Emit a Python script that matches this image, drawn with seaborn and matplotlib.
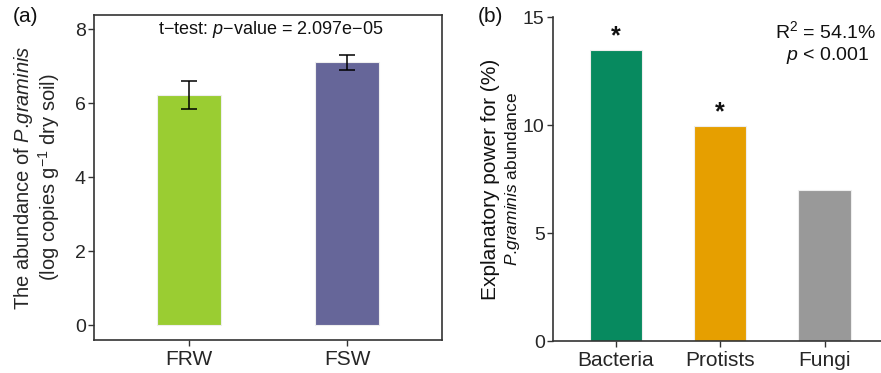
import seaborn as sns
import matplotlib.pyplot as plt
import pandas as pd

# ---- data ----
groups = ['FRW', 'FSW']
abundance = [6.22, 7.10]
abundance_sd = [0.38, 0.21]
group_colors = ['#9ACD32', '#666699']

taxa = ['Bacteria', 'Protists', 'Fungi']
expl_power = [13.45, 9.95, 7.0]
taxa_colors = ['#078A5F', '#E69F00', '#999999']
signif = ['*', '*', '']

sns.set_style('white')
plt.rcParams['font.family'] = ['Liberation Sans', 'DejaVu Sans']
plt.rcParams['mathtext.fontset'] = 'custom'
plt.rcParams['mathtext.rm'] = 'Liberation Sans'
plt.rcParams['mathtext.it'] = 'Liberation Sans:italic'
plt.rcParams['text.color'] = '#111111'

fig = plt.figure(figsize=(8.81, 3.73), dpi=100)
W, H = 881, 373
ax1 = fig.add_axes([94 / W, 1 - 340 / H, (442 - 94) / W, (340 - 15) / H])
ax2 = fig.add_axes([553 / W, 1 - 341 / H, (881 - 553) / W, (341 - 17) / H])

# ---- panel (a) ----
df_a = pd.DataFrame({'group': groups, 'value': abundance})
sns.barplot(data=df_a, x='group', y='value', hue='group', palette=group_colors,
            saturation=1, width=0.4, edgecolor='#eeeeee', linewidth=0.8,
            legend=False, ax=ax1)
ax1.errorbar(range(len(groups)), abundance, yerr=abundance_sd, fmt='none',
             ecolor='black', elinewidth=1.1, capsize=6, capthick=1.1)
ax1.set_xlim(-0.6, 1.6)
ax1.set_ylim(-0.4, 8.38)
ax1.set_yticks([0, 2, 4, 6, 8])
ax1.set_xlabel('')
ax1.set_ylabel('The abundance of $\\it{P}$.$\\it{graminis}$\n(log copies g$^{-1}$ dry soil)',
               fontsize=14.5, labelpad=9, linespacing=1.05)
for s in ax1.spines.values():
    s.set_color('#333333')
    s.set_linewidth(1.2)
ax1.tick_params(axis='both', direction='out', length=4, width=1, color='#333333',
                left=True, bottom=True)
ax1.tick_params(axis='y', labelsize=14, pad=2)
ax1.tick_params(axis='x', labelsize=15, pad=3)
ax1.text(0.52, 8.0, 't$-$test: $\\it{p}$$-$value = 2.097e$-$05', ha='center', va='center',
         fontsize=13)

# ---- panel (b) ----
df_b = pd.DataFrame({'taxon': taxa, 'value': expl_power})
sns.barplot(data=df_b, x='taxon', y='value', hue='taxon', palette=taxa_colors,
            saturation=1, width=0.5, edgecolor='#eeeeee', linewidth=0.8,
            legend=False, ax=ax2)
for i, (v, s) in enumerate(zip(expl_power, signif)):
    if s:
        ax2.text(i, v + 0.1, s, ha='center', va='bottom', fontsize=18, fontweight='bold')
ax2.set_xlim(-0.6, 2.54)
ax2.set_ylim(0, 15)
ax2.set_yticks([0, 5, 10, 15])
ax2.set_xlabel('')
ax2.set_ylabel('')
sns.despine(ax=ax2)
for s in ['left', 'bottom']:
    ax2.spines[s].set_color('#333333')
    ax2.spines[s].set_linewidth(1.2)
ax2.tick_params(axis='both', direction='out', length=4, width=1, color='#333333',
                left=True, bottom=True)
ax2.tick_params(axis='y', labelsize=14, pad=2)
ax2.tick_params(axis='x', labelsize=15, pad=3)
ax2.text(-0.192, 0.5, 'Explanatory power for (%)', transform=ax2.transAxes,
         rotation=90, ha='center', va='center', fontsize=15)
ax2.text(-0.125, 0.5, '$\\it{P}$.$\\it{graminis}$ abundance', transform=ax2.transAxes,
         rotation=90, ha='center', va='center', fontsize=12.5)
ax2.text(0.985, 0.955, 'R$^2$ = 54.1%', transform=ax2.transAxes,
         ha='right', va='center', fontsize=14)
ax2.text(0.965, 0.88, '$\\it{p}$ < 0.001', transform=ax2.transAxes,
         ha='right', va='center', fontsize=14)

# panel labels
fig.text(25 / W, 1 - 17 / H, '(a)', ha='center', va='center', fontsize=15)
fig.text(490 / W, 1 - 17 / H, '(b)', ha='center', va='center', fontsize=15)

fig.savefig('out.png', dpi=100)
